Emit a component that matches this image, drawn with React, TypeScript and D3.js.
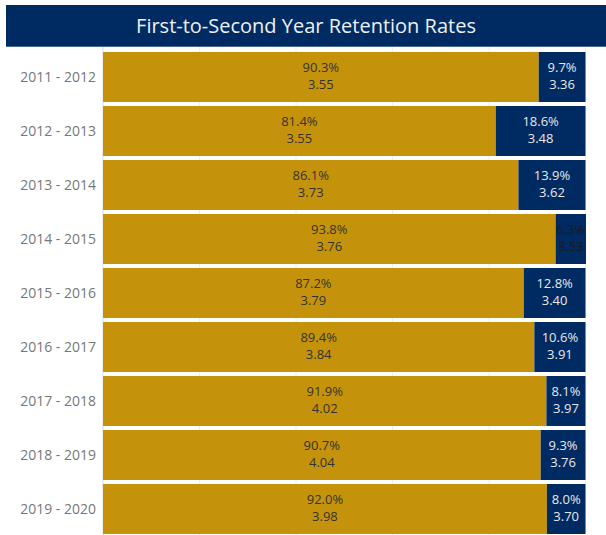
import React from "react";
import * as d3 from "d3";

const years = ["2011 - 2012","2012 - 2013","2013 - 2014","2014 - 2015","2015 - 2016","2016 - 2017","2017 - 2018","2018 - 2019","2019 - 2020"];
const retainedPct = [90.3, 81.4, 86.1, 93.8, 87.2, 89.4, 91.9, 90.7, 92.0];
const retainedGpa = ["3.55","3.55","3.73","3.76","3.79","3.84","4.02","4.04","3.98"];
const leftPct = [9.7, 18.6, 13.9, 6.3, 12.8, 10.6, 8.1, 9.3, 8.0];
const leftGpa = ["3.36","3.48","3.62","3.53","3.40","3.91","3.97","3.76","3.70"];
const gridTicks = [0, 20, 40, 60, 80, 100];
const title = "First-to-Second Year Retention Rates";

const W = 606, H = 535;
const GOLD = "#C5930B";
const NAVY = "#002B62";
const FONT = "'Open Sans', 'Noto Sans', sans-serif";

export default function App() {
  const x = d3.scaleLinear().domain([0, 100]).range([103, 585.5]);
  const p = 4 / 54;
  const y = d3.scaleBand<string>().domain(years).range([50, 536]).paddingInner(p).paddingOuter(p / 2);
  const bw = y.bandwidth();
  return (
    <svg width={W} height={H} style={{ position: "absolute", left: 0, top: 0, background: "#fff" }}>
      {gridTicks.map((t) => (
        <line key={t} x1={x(t)} x2={x(t)} y1={47} y2={H} stroke={t === 0 ? "#ddd" : "#eeeeee"} strokeWidth={1} />
      ))}
      <rect x={6} y={5} width={W - 6} height={41.7} fill={NAVY} />
      <text x={306} y={33} textAnchor="middle" fontFamily={FONT} fontSize={20} fill="#f0f0f0">{title}</text>
      {years.map((yr, i) => {
        const y0 = y(yr)!;
        const cy = y0 + bw / 2;
        const g0 = x(0), g1 = x(retainedPct[i]);
        const n1 = x(retainedPct[i] + leftPct[i]);
        const gc = (g0 + g1) / 2, nc = (g1 + n1) / 2;
        const fits = n1 - g1 > 34;
        const navyText = fits ? "#e8e8e8" : "#1a1a1a";
        return (
          <g key={yr}>
            <text x={96} y={cy + 5} textAnchor="end" fontFamily={FONT} fontSize={14} fill="#777">{yr}</text>
            <rect x={g0} y={y0} width={g1 - g0} height={bw} fill={GOLD} />
            <rect x={g1} y={y0} width={n1 - g1} height={bw} fill={NAVY} />
            <text x={gc} y={cy - 5} textAnchor="middle" fontFamily={FONT} fontSize={13} fill="#333">{retainedPct[i].toFixed(1)}%</text>
            <text x={gc} y={cy + 12} textAnchor="middle" fontFamily={FONT} fontSize={13} fill="#333">{retainedGpa[i]}</text>
            <text x={nc} y={cy - 5} textAnchor="middle" fontFamily={FONT} fontSize={13} fill={navyText}>{leftPct[i].toFixed(1)}%</text>
            <text x={nc} y={cy + 12} textAnchor="middle" fontFamily={FONT} fontSize={13} fill={navyText}>{leftGpa[i]}</text>
          </g>
        );
      })}
    </svg>
  );
}
